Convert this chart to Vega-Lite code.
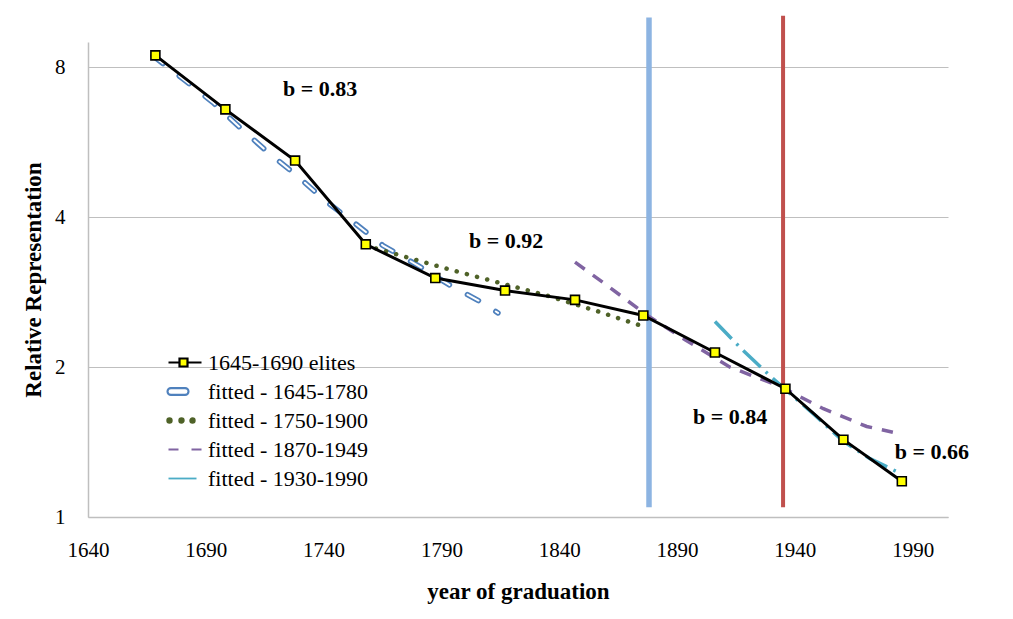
{
  "$schema": "https://vega.github.io/schema/vega-lite/v6.json",
  "width": 860,
  "height": 475,
  "autosize": {"type": "none"},
  "padding": {"left": 88, "top": 42, "right": 65, "bottom": 102},
  "background": "white",
  "config": {
    "view": {"stroke": null},
    "font": "Liberation Serif",
    "axis": {"labelFont": "Liberation Serif", "titleFont": "Liberation Serif", "labelColor": "#000000", "titleColor": "#000000"},
    "legend": {"orient": "none", "legendX": 77, "legendY": 306, "padding": 0, "symbolSize": 1600, "clipHeight": 29, "rowPadding": 0, "labelOffset": 0,
      "labelFont": "Liberation Serif", "labelFontSize": 22, "labelColor": "#000000", "labelLimit": 300, "symbolOpacity": 1}
  },
  "datasets": {
    "series": [
      {"series": "1645-1690 elites", "year": 1668.6, "value": 8.46},
      {"series": "1645-1690 elites", "year": 1698.3, "value": 6.59},
      {"series": "1645-1690 elites", "year": 1727.9, "value": 5.20},
      {"series": "1645-1690 elites", "year": 1757.9, "value": 3.53},
      {"series": "1645-1690 elites", "year": 1787.4, "value": 3.02},
      {"series": "1645-1690 elites", "year": 1817.0, "value": 2.85},
      {"series": "1645-1690 elites", "year": 1846.7, "value": 2.73},
      {"series": "1645-1690 elites", "year": 1875.7, "value": 2.54},
      {"series": "1645-1690 elites", "year": 1906.1, "value": 2.14},
      {"series": "1645-1690 elites", "year": 1936.0, "value": 1.81},
      {"series": "1645-1690 elites", "year": 1960.6, "value": 1.43},
      {"series": "1645-1690 elites", "year": 1985.4, "value": 1.18},
      {"series": "fitted - 1645-1780", "year": 1667.6, "value": 8.44},
      {"series": "fitted - 1645-1780", "year": 1680.3, "value": 7.59},
      {"series": "fitted - 1645-1780", "year": 1693.1, "value": 6.80},
      {"series": "fitted - 1645-1780", "year": 1704.5, "value": 6.06},
      {"series": "fitted - 1645-1780", "year": 1716.4, "value": 5.40},
      {"series": "fitted - 1645-1780", "year": 1728.7, "value": 4.85},
      {"series": "fitted - 1645-1780", "year": 1740.6, "value": 4.32},
      {"series": "fitted - 1645-1780", "year": 1753.3, "value": 3.89},
      {"series": "fitted - 1645-1780", "year": 1765.2, "value": 3.51},
      {"series": "fitted - 1645-1780", "year": 1780.1, "value": 3.20},
      {"series": "fitted - 1645-1780", "year": 1793.7, "value": 2.92},
      {"series": "fitted - 1645-1780", "year": 1807.7, "value": 2.69},
      {"series": "fitted - 1645-1780", "year": 1814.0, "value": 2.57},
      {"series": "fitted - 1750-1900", "year": 1757.9, "value": 3.51},
      {"series": "fitted - 1750-1900", "year": 1793.7, "value": 3.14},
      {"series": "fitted - 1750-1900", "year": 1834.3, "value": 2.79},
      {"series": "fitted - 1750-1900", "year": 1856.3, "value": 2.59},
      {"series": "fitted - 1750-1900", "year": 1873.9, "value": 2.43},
      {"series": "fitted - 1870-1949", "year": 1846.7, "value": 3.25},
      {"series": "fitted - 1870-1949", "year": 1859.4, "value": 2.94},
      {"series": "fitted - 1870-1949", "year": 1876.4, "value": 2.56},
      {"series": "fitted - 1870-1949", "year": 1893.4, "value": 2.27},
      {"series": "fitted - 1870-1949", "year": 1912.5, "value": 2.00},
      {"series": "fitted - 1870-1949", "year": 1933.7, "value": 1.83},
      {"series": "fitted - 1870-1949", "year": 1952.1, "value": 1.65},
      {"series": "fitted - 1870-1949", "year": 1970.5, "value": 1.52},
      {"series": "fitted - 1870-1949", "year": 1981.6, "value": 1.48},
      {"series": "fitted - 1930-1990", "year": 1906.1, "value": 2.47},
      {"series": "fitted - 1930-1990", "year": 1917.6, "value": 2.17},
      {"series": "fitted - 1930-1990", "year": 1929.5, "value": 1.92},
      {"series": "fitted - 1930-1990", "year": 1938.0, "value": 1.77},
      {"series": "fitted - 1930-1990", "year": 1948.6, "value": 1.60},
      {"series": "fitted - 1930-1990", "year": 1960.5, "value": 1.42},
      {"series": "fitted - 1930-1990", "year": 1971.9, "value": 1.31},
      {"series": "fitted - 1930-1990", "year": 1983.8, "value": 1.23}
    ],
    "notes": [
      {"year": 1738.5, "value": 7.25, "label": "b = 0.83"},
      {"year": 1817.5, "value": 3.58, "label": "b = 0.92"},
      {"year": 1912.5, "value": 1.59, "label": "b = 0.84"},
      {"year": 1998.2, "value": 1.35, "label": "b = 0.66"}
    ]
  },
  "layer": [
    {
      "data": {"values": [{"year": 1878.1, "lo": 1.046, "hi": 10.08}]},
      "mark": {"type": "rule", "color": "#8DB4E2", "strokeWidth": 5.5},
      "encoding": {
        "x": {"field": "year", "type": "quantitative", "scale": {"domain": [1640, 2005], "nice": false, "zero": false},
          "axis": {"values": [1640, 1690, 1740, 1790, 1840, 1890, 1940, 1990], "format": "d", "grid": false, "ticks": false, "labelFlush": false, "labelOverlap": false, "labelPadding": 22, "labelFontSize": 21, "domainColor": "#BFBFBF", "domainWidth": 1.5, "title": "year of graduation", "titleFontSize": 23, "titleFontWeight": "bold", "titlePadding": 20}},
        "y": {"field": "lo", "type": "quantitative", "scale": {"type": "log", "base": 2, "domain": [1, 9], "nice": false},
          "axis": {"values": [1, 2, 4, 8], "format": "d", "grid": true, "gridColor": "#BFBFBF", "gridWidth": 1.2, "ticks": false, "labelPadding": 23, "labelFontSize": 21, "domainColor": "#BFBFBF", "domainWidth": 1.5, "title": "Relative Representation", "titleFontSize": 23, "titleFontWeight": "bold", "titlePadding": 9}},
        "y2": {"field": "hi"}
      }
    },
    {
      "data": {"values": [{"year": 1935.0, "lo": 1.046, "hi": 10.16}]},
      "mark": {"type": "rule", "color": "#C0504D", "strokeWidth": 4},
      "encoding": {
        "x": {"field": "year", "type": "quantitative"},
        "y": {"field": "lo", "type": "quantitative"},
        "y2": {"field": "hi"}
      }
    },
    {
      "data": {"name": "series"},
      "transform": [{"filter": "datum.series === 'fitted - 1645-1780'"}],
      "mark": {"type": "line", "strokeWidth": 5.5, "strokeCap": "round", "strokeDash": [12.5, 20.5]},
      "encoding": {
        "x": {"field": "year", "type": "quantitative"},
        "y": {"field": "value", "type": "quantitative"},
        "color": {"field": "series", "type": "nominal",
          "scale": {"domain": ["1645-1690 elites", "fitted - 1645-1780", "fitted - 1750-1900", "fitted - 1870-1949", "fitted - 1930-1990"],
                    "range": ["#000000", "#4F81BD", "#4F6228", "#8064A2", "#4BACC6"]},
          "legend": {"title": null, "labelFont": "Liberation Serif", "labelFontSize": 22}
        }
      }
    },
    {
      "data": {"name": "series"},
      "transform": [{"filter": "datum.series === 'fitted - 1645-1780'"}],
      "mark": {"type": "line", "strokeWidth": 2, "strokeCap": "round", "strokeDash": [12.5, 20.5], "color": "#FFFFFF"},
      "encoding": {
        "x": {"field": "year", "type": "quantitative"},
        "y": {"field": "value", "type": "quantitative"}
      }
    },
    {
      "data": {"name": "series"},
      "transform": [{"filter": "datum.series === 'fitted - 1750-1900'"}],
      "mark": {"type": "line", "strokeWidth": 4.5, "strokeCap": "round", "strokeDash": [0.1, 10.4]},
      "encoding": {
        "x": {"field": "year", "type": "quantitative"},
        "y": {"field": "value", "type": "quantitative"},
        "color": {"field": "series", "type": "nominal", "legend": {"title": null, "labelFont": "Liberation Serif", "labelFontSize": 22}}
      }
    },
    {
      "data": {"name": "series"},
      "transform": [{"filter": "datum.series === 'fitted - 1870-1949'"}],
      "mark": {"type": "line", "strokeWidth": 3.5, "strokeDash": [12, 10]},
      "encoding": {
        "x": {"field": "year", "type": "quantitative"},
        "y": {"field": "value", "type": "quantitative"},
        "color": {"field": "series", "type": "nominal", "legend": {"title": null, "labelFont": "Liberation Serif", "labelFontSize": 22}}
      }
    },
    {
      "data": {"name": "series"},
      "transform": [{"filter": "datum.series === 'fitted - 1930-1990'"}],
      "mark": {"type": "line", "strokeWidth": 3.5, "strokeDash": [24, 7, 2.5, 7]},
      "encoding": {
        "x": {"field": "year", "type": "quantitative"},
        "y": {"field": "value", "type": "quantitative"},
        "color": {"field": "series", "type": "nominal", "legend": {"title": null, "labelFont": "Liberation Serif", "labelFontSize": 22}}
      }
    },
    {
      "data": {"name": "series"},
      "transform": [{"filter": "datum.series === '1645-1690 elites'"}],
      "mark": {"type": "line", "strokeWidth": 3},
      "encoding": {
        "x": {"field": "year", "type": "quantitative"},
        "y": {"field": "value", "type": "quantitative"},
        "color": {"field": "series", "type": "nominal", "legend": {"title": null, "labelFont": "Liberation Serif", "labelFontSize": 22}}
      }
    },
    {
      "data": {"name": "series"},
      "transform": [{"filter": "datum.series === '1645-1690 elites'"}],
      "mark": {"type": "point", "shape": "square", "size": 80, "filled": true, "fill": "#FFFF00", "stroke": "#000000", "strokeWidth": 1.6, "opacity": 1},
      "encoding": {
        "x": {"field": "year", "type": "quantitative"},
        "y": {"field": "value", "type": "quantitative"}
      }
    },
    {
      "data": {"name": "series"},
      "transform": [{"filter": "false"}],
      "mark": {"type": "point", "opacity": 1},
      "encoding": {
        "x": {"field": "year", "type": "quantitative"},
        "y": {"field": "value", "type": "quantitative"},
        "shape": {"field": "series", "type": "nominal", "legend": {"title": null, "labelFont": "Liberation Serif", "labelFontSize": 22},
          "scale": {"domain": ["1645-1690 elites", "fitted - 1645-1780", "fitted - 1750-1900", "fitted - 1870-1949", "fitted - 1930-1990"],
                    "range": ["M-0.9,0H-0.35M0.05,0H0.75M-0.35,-0.2H0.05V0.2H-0.35Z",
                              "M-0.78,-0.17H-0.07A0.17,0.17 0 0 1 -0.07,0.17H-0.78A0.17,0.17 0 0 1 -0.78,-0.17Z",
                              "M-0.96,0a0.11,0.11 0 1,0 0.22,0a0.11,0.11 0 1,0 -0.22,0M-0.36,0a0.11,0.11 0 1,0 0.22,0a0.11,0.11 0 1,0 -0.22,0M0.19,0a0.11,0.11 0 1,0 0.22,0a0.11,0.11 0 1,0 -0.22,0",
                              "M-0.9,0H-0.4M0.25,0H0.75",
                              "M-0.9,0H0.5"]}},
        "fill": {"field": "series", "type": "nominal", "legend": {"title": null, "labelFont": "Liberation Serif", "labelFontSize": 22},
          "scale": {"domain": ["1645-1690 elites", "fitted - 1645-1780", "fitted - 1750-1900", "fitted - 1870-1949", "fitted - 1930-1990"],
                    "range": ["#FFFF00", "#FFFFFF", "#4F6228", "transparent", "transparent"]}},
        "strokeWidth": {"field": "series", "type": "nominal", "legend": {"title": null, "labelFont": "Liberation Serif", "labelFontSize": 22},
          "scale": {"domain": ["1645-1690 elites", "fitted - 1645-1780", "fitted - 1750-1900", "fitted - 1870-1949", "fitted - 1930-1990"],
                    "range": [2.2, 1.8, 1, 3.5, 3.5]}}
      }
    },
    {
      "data": {"name": "notes"},
      "mark": {"type": "text", "font": "Liberation Serif", "fontSize": 22, "fontWeight": "bold", "color": "#000000", "align": "center", "baseline": "middle"},
      "encoding": {
        "x": {"field": "year", "type": "quantitative"},
        "y": {"field": "value", "type": "quantitative"},
        "text": {"field": "label"}
      }
    }
  ]
}
